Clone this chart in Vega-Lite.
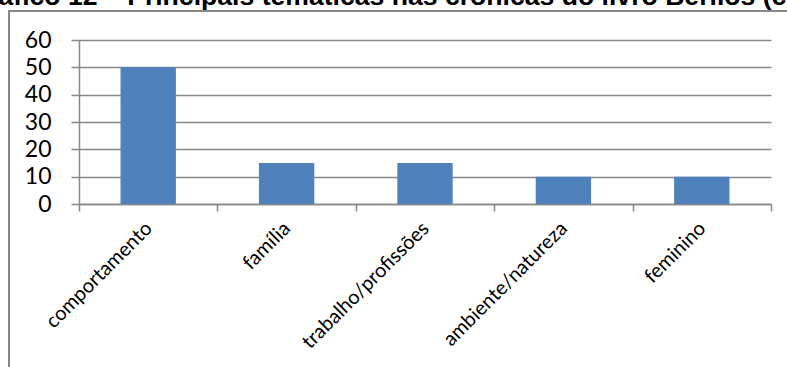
{
  "$schema": "https://vega.github.io/schema/vega-lite/v6.json",
  "autosize": "none",
  "width": 790,
  "height": 360,
  "padding": {"left": 9, "top": 11, "right": 0, "bottom": 0},
  "background": "white",
  "title": {
    "text": "Gráfico 12 – Principais temáticas nas crônicas do livro Berlios (c",
    "anchor": "start",
    "frame": "group",
    "font": "Liberation Sans",
    "fontSize": 26.6,
    "fontWeight": "bold",
    "color": "black",
    "dx": -41.5,
    "dy": 23,
    "baseline": "alphabetic",
    "offset": 2
  },
  "config": {"view": {"stroke": "#878787", "strokeWidth": 2}},
  "data": {
    "values": [
      {"tema": "comportamento", "valor": 50},
      {"tema": "família", "valor": 15},
      {"tema": "trabalho/profissões", "valor": 15},
      {"tema": "ambiente/natureza", "valor": 10},
      {"tema": "feminino", "valor": 10}
    ]
  },
  "mark": {"type": "bar", "color": "#4F81BD"},
  "encoding": {
    "x": {
      "field": "tema",
      "type": "nominal",
      "sort": null,
      "scale": {"range": [70, 762], "paddingInner": 0.6, "paddingOuter": 0.3},
      "axis": {
        "title": null,
        "orient": "bottom",
        "offset": -167,
        "grid": false,
        "domainColor": "#878787",
        "domainWidth": 1.5,
        "tickColor": "#878787",
        "tickWidth": 1.5,
        "tickSize": 7,
        "tickOffset": 69.2,
        "labelOffset": -76,
        "labelAngle": -45,
        "labelAlign": "right",
        "labelBaseline": "top",
        "labelPadding": 7,
        "labelFont": "Lato",
        "labelFontSize": 20,
        "labelColor": "black",
        "labelLimit": 0
      }
    },
    "y": {
      "field": "valor",
      "type": "quantitative",
      "scale": {"domain": [-2.56, 60], "range": [200, 29], "nice": false, "zero": false},
      "axis": {
        "title": null,
        "offset": -70,
        "values": [0, 10, 20, 30, 40, 50, 60],
        "grid": true,
        "gridColor": "#878787",
        "gridWidth": 1.5,
        "domainColor": "#878787",
        "domainWidth": 1.5,
        "tickColor": "#878787",
        "tickWidth": 1.5,
        "tickSize": 8,
        "labelFont": "Lato",
        "labelFontSize": 23,
        "labelColor": "black",
        "labelPadding": 20
      }
    },
    "y2": {"datum": 0}
  }
}
